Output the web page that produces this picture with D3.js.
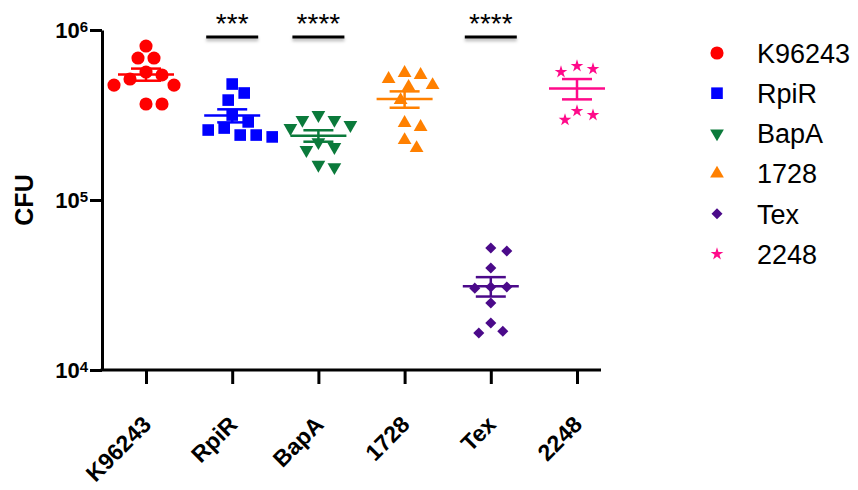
<!DOCTYPE html>
<meta charset="utf-8">
<style>
body { margin: 0; background: #fff; }
text { font-family: Arial, "Liberation Sans", Helvetica, sans-serif; }
.axis path, .axis line { stroke: #000; stroke-width: 3px; }
.tick text { font-weight: bold; font-size: 23px; fill: #000; }
.legend text { font-size: 27px; fill: #000; }
</style>
<svg></svg>
<script src="https://cdn.jsdelivr.net/npm/d3@7"></script>
<script>

var width = 858,
    height = 490;

// data (CFU per strain)
var groups = ["K96243", "RpiR", "BapA", "1728", "Tex", "2248"];
var colors = ["#ff0000", "#0000ff", "#0b7a3b", "#ff8000", "#4b0a8a", "#ff0a8a"];
var k96243 = [805000, 684000, 684000, 566000, 544000, 515000, 474000, 474000, 367000, 367000];
var rpiR   = [481000, 426000, 387000, 316000, 288000, 265000, 258000, 241000, 241000, 235000];
var bapA   = [316000, 296000, 296000, 276000, 265000, 219000, 205000, 197000, 161000, 156000];
var s1728  = [559000, 544000, 515000, 474000, 463000, 387000, 284000, 269000, 225000, 202000];
var tex    = [52200, 50100, 39800, 30800, 30800, 30300, 24800, 18900, 16900, 16500];
var s2248  = [614000, 590000, 566000, 334000, 316000, 296000];
var seriesValues = [k96243, rpiR, bapA, s1728, tex, s2248];
var sigLabels = ["", "***", "****", "", "****", ""];
var yTicks = [1e4, 1e5, 1e6];

var svg = d3.select("svg")
    .attr("width", width)
    .attr("height", height);

var defs = svg.append("defs");
defs.append("filter")
    .attr("id", "shadow")
    .attr("filterUnits", "userSpaceOnUse")
    .attr("x", 0).attr("y", 0)
    .attr("width", width).attr("height", height)
  .append("feDropShadow")
    .attr("dx", 0).attr("dy", 2.5)
    .attr("stdDeviation", 1.5)
    .attr("flood-opacity", 0.3);

var x = d3.scalePoint()
    .domain(groups)
    .range([146, 577]);

var y = d3.scaleLog()
    .domain([1e4, 1e6])
    .range([370, 30]);

var symbols = [
  d3.symbol().type(d3.symbolCircle).size(135),
  d3.symbol().type(d3.symbolSquare).size(135),
  d3.symbol().type(d3.symbolTriangle).size(82),
  d3.symbol().type(d3.symbolTriangle).size(82),
  d3.symbol().type(d3.symbolDiamond2).size(78),
  d3.symbol().type(d3.symbolStar).size(50)
];
var rotations = [0, 0, 180, 0, 0, 0];

// y axis
var yAxis = svg.append("g")
    .attr("class", "axis")
    .attr("transform", "translate(102,0)")
    .call(d3.axisLeft(y).tickValues(yTicks).tickSize(12).tickSizeOuter(0).tickFormat(""));

yAxis.selectAll(".tick").append("text")
    .attr("x", -14)
    .attr("dy", "0.36em")
    .attr("text-anchor", "end")
    .style("font-weight", "bold")
    .style("font-size", "22px")
    .style("fill", "#000")
    .each(function(d) {
      var t = d3.select(this);
      t.append("tspan").text("10");
      t.append("tspan")
          .attr("dy", "-0.45em")
          .style("font-size", "15px")
          .text(Math.round(Math.log10(d)));
    });

svg.append("text")
    .attr("transform", "translate(33,200) rotate(-90)")
    .attr("text-anchor", "middle")
    .style("font-weight", "bold")
    .style("font-size", "25px")
    .text("CFU");

// x axis
var xAxis = svg.append("g")
    .attr("class", "axis")
    .attr("transform", "translate(0,370)")
    .call(d3.axisBottom(x).tickSize(14).tickSizeOuter(0));

xAxis.select(".domain").remove();
xAxis.append("line")
    .attr("x1", 100.5)
    .attr("x2", 601)
    .attr("y1", 0)
    .attr("y2", 0);

xAxis.selectAll(".tick text")
    .attr("text-anchor", "end")
    .attr("x", 0)
    .attr("y", 0)
    .attr("dy", 0)
    .attr("transform", "translate(6,56) rotate(-45)");

// scatter layout: simple beeswarm around each category
function swarm(vals, cx) {
  var placed = [];
  var minDist = 14;
  vals.slice().sort(function(a, b) { return b - a; }).forEach(function(v) {
    var py = y(v);
    var off = 0, k = 0;
    while (true) {
      var cand = k === 0 ? 0 : (k % 2 === 1 ? 1 : -1) * Math.ceil(k / 2) * 4;
      var ok = placed.every(function(p) {
        var dx = p.x - (cx + cand), dy = p.y - py;
        return Math.sqrt(dx * dx + dy * dy) >= minDist;
      });
      if (ok) { off = cand; break; }
      k++;
    }
    placed.push({x: cx + off, y: py, v: v});
  });
  return placed;
}

var plot = svg.append("g");

seriesValues.forEach(function(vals, i) {
  var cx = x(groups[i]);
  var pts = swarm(vals, cx);
  var g = plot.append("g").attr("fill", colors[i]);

  g.selectAll("path")
    .data(pts)
    .enter().append("path")
      .attr("d", symbols[i])
      .attr("transform", function(d) {
        return "translate(" + d.x + "," + d.y + ") rotate(" + rotations[i] + ")";
      });

  var mean = d3.mean(vals);
  var sem = d3.deviation(vals) / Math.sqrt(vals.length);
  var ln = plot.append("g")
      .attr("stroke", colors[i])
      .attr("stroke-width", 2.5);
  ln.append("line")
      .attr("x1", cx - 28).attr("x2", cx + 28)
      .attr("y1", y(mean)).attr("y2", y(mean));
  ln.append("line")
      .attr("x1", cx - 15).attr("x2", cx + 15)
      .attr("y1", y(mean + sem)).attr("y2", y(mean + sem));
  ln.append("line")
      .attr("x1", cx - 15).attr("x2", cx + 15)
      .attr("y1", y(mean - sem)).attr("y2", y(mean - sem));
  ln.append("line")
      .attr("x1", cx).attr("x2", cx)
      .attr("y1", y(mean + sem)).attr("y2", y(mean - sem));

  if (sigLabels[i]) {
    svg.append("line")
        .attr("x1", cx - 26).attr("x2", cx + 26)
        .attr("y1", 37).attr("y2", 37)
        .attr("stroke", "#000")
        .attr("stroke-width", 3)
        .attr("filter", "url(#shadow)");
    svg.append("text")
        .attr("x", cx)
        .attr("y", 33)
        .attr("text-anchor", "middle")
        .style("font-size", "28px")
        .text(sigLabels[i]);
  }
});

// legend
var legend = svg.append("g")
    .attr("class", "legend")
    .selectAll("g")
    .data(groups)
    .enter().append("g")
      .attr("transform", function(d, i) { return "translate(717," + (53 + i * 40.2) + ")"; });

legend.append("path")
    .attr("d", function(d, i) { return symbols[i](); })
    .attr("fill", function(d, i) { return colors[i]; })
    .attr("transform", function(d, i) { return "rotate(" + rotations[i] + ")"; });

legend.append("text")
    .attr("x", 40)
    .attr("dy", "0.36em")
    .text(function(d) { return d; });

</script>
